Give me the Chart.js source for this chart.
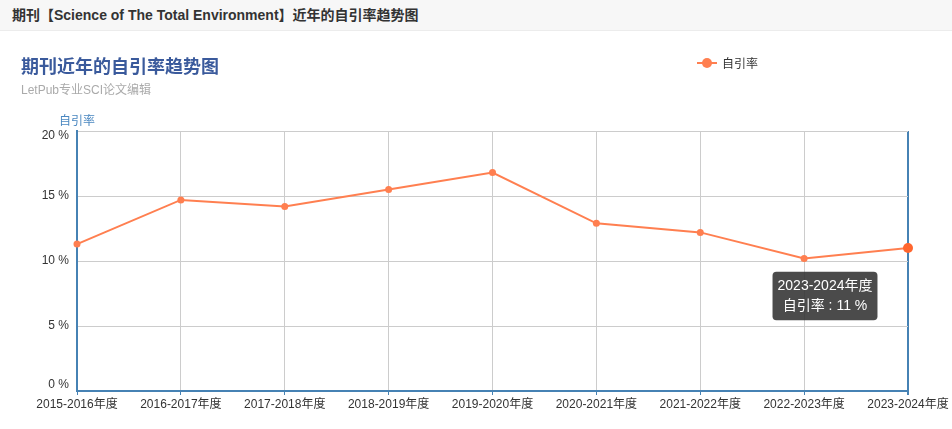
<!DOCTYPE html>
<html>
<head>
<meta charset="utf-8">
<script src="https://cdn.jsdelivr.net/npm/chart.js@4"></script>
<style>
  html, body { margin:0; padding:0; background:#fff; }
  body { width:952px; height:429px; position:relative; overflow:hidden;
         font-family:"Liberation Sans","Noto Sans CJK SC",sans-serif; color:#333; }
  #bar { position:absolute; left:0; top:0; width:952px; height:31px; background:#f7f7f7;
         border-bottom:1px solid #ececec; font-size:14px; font-weight:bold; line-height:30px; padding-left:12px; box-sizing:border-box; }
  #title { position:absolute; left:21px; top:52px; font-size:18px; font-weight:bold; color:#3a5a9c; }
  #sub { position:absolute; left:21px; top:80px; font-size:12px; color:#aaa; }
  #legend { position:absolute; left:697px; top:54px; font-size:12px; color:#333; display:flex; align-items:center; }
  #legend .ln { position:relative; width:20px; height:2px; margin-right:5px; }
  #legend .dot { position:absolute; left:5px; top:-4px; width:10px; height:10px; border-radius:50%; }
  #yname { position:absolute; left:59px; top:111px; font-size:12px; color:#4a87c0; }
  #wrap { position:absolute; left:0; top:0; width:952px; height:429px; }
</style>
</head>
<body>
<div id="wrap"><canvas id="c" width="952" height="429"></canvas></div>
<div id="bar"></div>
<div id="title"></div>
<div id="sub"></div>
<div id="legend"></div>
<div id="yname"></div>
<script>
// ---- data ----
const pageTitle = "期刊【Science of The Total Environment】近年的自引率趋势图";
const chartTitle = "期刊近年的自引率趋势图";
const chartSub = "LetPub专业SCI论文编辑";
const seriesName = "自引率";
const years = ["2015-2016年度","2016-2017年度","2017-2018年度","2018-2019年度","2019-2020年度",
               "2020-2021年度","2021-2022年度","2022-2023年度","2023-2024年度"];
const selfCiteRate = [11.3, 14.7, 14.2, 15.5, 16.8, 12.9, 12.2, 10.2, 11];
const yTicks = [0, 5, 10, 15, 20];
// -------------

const lineColor = "#ff7f50";
const axisBlue = "#4682b4";
const fontFam = "Liberation Sans, Noto Sans CJK SC";

function sel(id){ return document.getElementById(id); }
sel("bar").textContent = pageTitle;
sel("title").textContent = chartTitle;
sel("sub").textContent = chartSub;
sel("yname").textContent = seriesName;
sel("legend").innerHTML = `<span class="ln" style="background:${lineColor}"><span class="dot" style="background:${lineColor}"></span></span>${seriesName}`;

Chart.Tooltip.positioners.offsetLeft = function(items){
  if (!items.length) return false;
  const el = items[0].element;
  return { x: el.x - 83, y: el.y + 48 };
};

// y labels drawn from the scale, edge labels nudged inward like the original
const yLabels = {
  id: "yLabels",
  afterDraw(chart){
    const s = chart.scales.y, ctx = chart.ctx;
    ctx.save();
    ctx.font = "12px " + fontFam;
    ctx.fillStyle = "#333";
    ctx.textAlign = "right";
    ctx.textBaseline = "middle";
    yTicks.forEach(v=>{
      let y = s.getPixelForValue(v);
      if (v === s.max) y += 5;
      if (v === s.min) y -= 6;
      ctx.fillText(v + " %", s.right - 8, y);
    });
    ctx.restore();
  }
};

const chart = new Chart(sel("c"), {
  type: "line",
  data: {
    labels: years,
    datasets: [{
      label: seriesName,
      data: selfCiteRate,
      borderColor: lineColor,
      backgroundColor: lineColor,
      borderWidth: 2,
      pointRadius: 3.5,
      pointHoverRadius: 5,
      pointBorderWidth: 0,
      pointHoverBorderWidth: 0,
      tension: 0
    }]
  },
  options: {
    responsive: false,
    animation: false,
    events: [],
    layout: { padding: { left: 0, right: 44, top: 131, bottom: 0 } },
    plugins: {
      legend: { display: false },
      tooltip: {
        enabled: true,
        position: "offsetLeft",
        xAlign: "center", yAlign: "center",
        caretSize: 0,
        backgroundColor: "rgba(50,50,50,0.88)",
        titleColor: "#fff", bodyColor: "#fff",
        titleFont: { size: 14, weight: "normal", family: fontFam },
        bodyFont: { size: 14, weight: "normal", family: fontFam },
        titleAlign: "center", bodyAlign: "center",
        titleMarginBottom: 3,
        padding: { x: 5, y: 6 },
        cornerRadius: 4,
        displayColors: false,
        callbacks: {
          label: (c) => `${c.dataset.label} : ${c.parsed.y} %`
        }
      }
    },
    scales: {
      x: {
        offset: false,
        afterFit: (s) => { s.height = 38; },
        border: { color: axisBlue, width: 2 },
        grid: {
          color: (c) => c.index === years.length - 1 ? axisBlue : "#cccccc",
          lineWidth: (c) => c.index === years.length - 1 ? 2 : 1,
          tickLength: 4, drawTicks: true, tickColor: axisBlue
        },
        ticks: { autoSkip: false, maxRotation: 0, color: "#333", padding: 2,
                 font: { size: 12, family: fontFam } }
      },
      y: {
        min: 0, max: 20,
        afterFit: (s) => { s.width = 77; },
        afterBuildTicks: (s) => { s.ticks = yTicks.map(v => ({ value: v })); },
        border: { color: axisBlue, width: 2 },
        grid: { color: "#cccccc", drawTicks: false },
        ticks: { color: "rgba(0,0,0,0)", padding: 8, callback: (v) => v + " %",
                 font: { size: 12, family: fontFam } }
      }
    }
  },
  plugins: [yLabels]
});

const last = selfCiteRate.length - 1;
chart.setActiveElements([{ datasetIndex: 0, index: last }]);
chart.tooltip.setActiveElements([{ datasetIndex: 0, index: last }], { x: 0, y: 0 });
chart.update();
</script>
</body>
</html>
